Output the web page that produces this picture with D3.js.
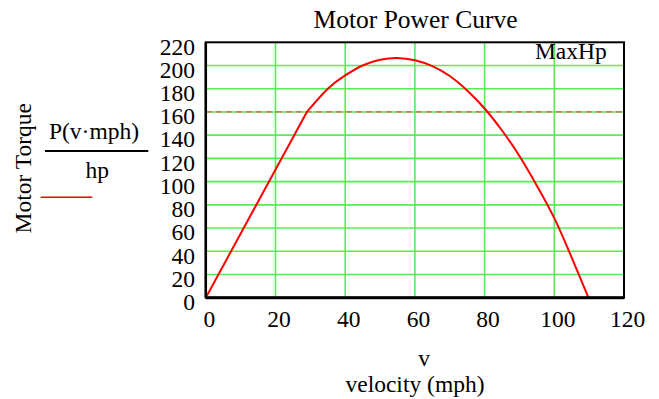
<!DOCTYPE html>
<html>
<head>
<meta charset="utf-8">
<script src="https://cdn.jsdelivr.net/npm/d3@7"></script>
<style>
body { margin:0; background:#fff; }
text { font-family: "Liberation Serif", "Times New Roman", serif; fill:#000; }
</style>
</head>
<body>
<div id="chart"></div>
<script>

// velocity (mph) and power (hp)
// first segment (0 -> 29) is a straight ramp, the rest is the smooth hump
var velocity = [0, 29, 35, 40, 45, 50, 55, 60, 65, 70, 75, 80, 85, 90, 95, 100, 105, 109.8]
var power    = [0, 160, 180, 191.5, 200, 205, 206.5, 204.5, 199.5, 191, 178.5, 163, 144, 122, 96.5, 68.5, 34.5, 0]

var maxHp = 160

var xTicks = [0, 20, 40, 60, 80, 100, 120]
var yTicks = [0, 20, 40, 60, 80, 100, 120, 140, 160, 180, 200, 220]

var w = 659, h = 399

var svg = d3.select("#chart").append("svg")
	.attr("width", w)
	.attr("height", h)

var x = d3.scaleLinear().domain([0, 120]).range([205.8, 624])
var y = d3.scaleLinear().domain([0, 220]).range([297.7, 42.3])

// grid
svg.append("g").selectAll("line")
	.data(xTicks.slice(1, -1))
	.enter().append("line")
	.attr("x1", function(d){ return x(d) })
	.attr("x2", function(d){ return x(d) })
	.attr("y1", y(0))
	.attr("y2", y(220))
	.attr("stroke", "#55ee55")
	.attr("stroke-width", 1.6)

svg.append("g").selectAll("line")
	.data(yTicks.slice(1, -1))
	.enter().append("line")
	.attr("x1", x(0))
	.attr("x2", x(120))
	.attr("y1", function(d){ return y(d) })
	.attr("y2", function(d){ return y(d) })
	.attr("stroke", "#55ee55")
	.attr("stroke-width", 1.6)

// MaxHp dashed line
svg.append("line")
	.attr("x1", x(0))
	.attr("x2", x(120))
	.attr("y1", y(maxHp))
	.attr("y2", y(maxHp))
	.attr("stroke", "#f05050")
	.attr("stroke-width", 1.2)
	.attr("stroke-dasharray", "6,4")

// curve
var pts = velocity.map(function(v, i){ return [v, power[i]] })

var ramp = d3.line()
	.x(function(d){ return x(d[0]) })
	.y(function(d){ return y(d[1]) })

var hump = d3.line()
	.x(function(d){ return x(d[0]) })
	.y(function(d){ return y(d[1]) })
	.curve(d3.curveNatural)

svg.append("path")
	.attr("d", ramp(pts.slice(0, 2)) + hump(pts.slice(1)).replace(/^M/, "L"))
	.attr("fill", "none")
	.attr("stroke", "#ff0000")
	.attr("stroke-width", 2)
	.attr("stroke-linejoin", "round")

// frame
svg.append("rect")
	.attr("x", x(0))
	.attr("y", y(220))
	.attr("width", x(120) - x(0))
	.attr("height", y(0) - y(220))
	.attr("fill", "none")
	.attr("stroke", "#000")
	.attr("stroke-width", 2)

svg.append("line")
	.attr("x1", x(0)).attr("x2", x(120))
	.attr("y1", y(0)).attr("y2", y(0))
	.attr("stroke", "#000").attr("stroke-width", 3)
svg.append("line")
	.attr("x1", x(0)).attr("x2", x(0))
	.attr("y1", y(0)).attr("y2", y(220))
	.attr("stroke", "#000").attr("stroke-width", 2.5)

// tick labels
svg.append("g").selectAll("text")
	.data(yTicks)
	.enter().append("text")
	.attr("x", 195)
	.attr("y", function(d){ return y(d) + 12.3 })
	.attr("text-anchor", "end")
	.style("font-size", "23.5px")
	.text(function(d){ return d })

svg.append("g").selectAll("text")
	.data(xTicks)
	.enter().append("text")
	.attr("x", function(d){ return x(d) + 3.5 })
	.attr("y", 327)
	.attr("text-anchor", "middle")
	.style("font-size", "23.5px")
	.text(function(d){ return d })

// titles
svg.append("text")
	.attr("x", 415.5).attr("y", 28.3)
	.attr("text-anchor", "middle")
	.style("font-size", "25.5px")
	.text("Motor Power Curve")

svg.append("text")
	.attr("x", 606.7).attr("y", 59.3)
	.attr("text-anchor", "end")
	.style("font-size", "23.5px")
	.text("MaxHp")

svg.append("text")
	.attr("x", 424).attr("y", 366)
	.attr("text-anchor", "middle")
	.style("font-size", "23.5px")
	.text("v")

svg.append("text")
	.attr("x", 415).attr("y", 391.5)
	.attr("text-anchor", "middle")
	.style("font-size", "23.5px")
	.text("velocity (mph)")

svg.append("text")
	.attr("transform", "translate(31,168.3) rotate(-90)")
	.attr("text-anchor", "middle")
	.style("font-size", "23.5px")
	.text("Motor Torque")

// legend: P(v·mph) / hp
svg.append("text")
	.attr("x", 94).attr("y", 139.3)
	.attr("text-anchor", "middle")
	.style("font-size", "23.5px")
	.text("P(v\u00b7mph)")

svg.append("line")
	.attr("x1", 45).attr("x2", 148.3)
	.attr("y1", 151).attr("y2", 151)
	.attr("stroke", "#000").attr("stroke-width", 2)

svg.append("text")
	.attr("x", 97.3).attr("y", 178.3)
	.attr("text-anchor", "middle")
	.style("font-size", "23.5px")
	.text("hp")

svg.append("line")
	.attr("x1", 40.7).attr("x2", 92.3)
	.attr("y1", 197.3).attr("y2", 197.3)
	.attr("stroke", "#ff0000").attr("stroke-width", 1.5)

</script>
</body>
</html>
